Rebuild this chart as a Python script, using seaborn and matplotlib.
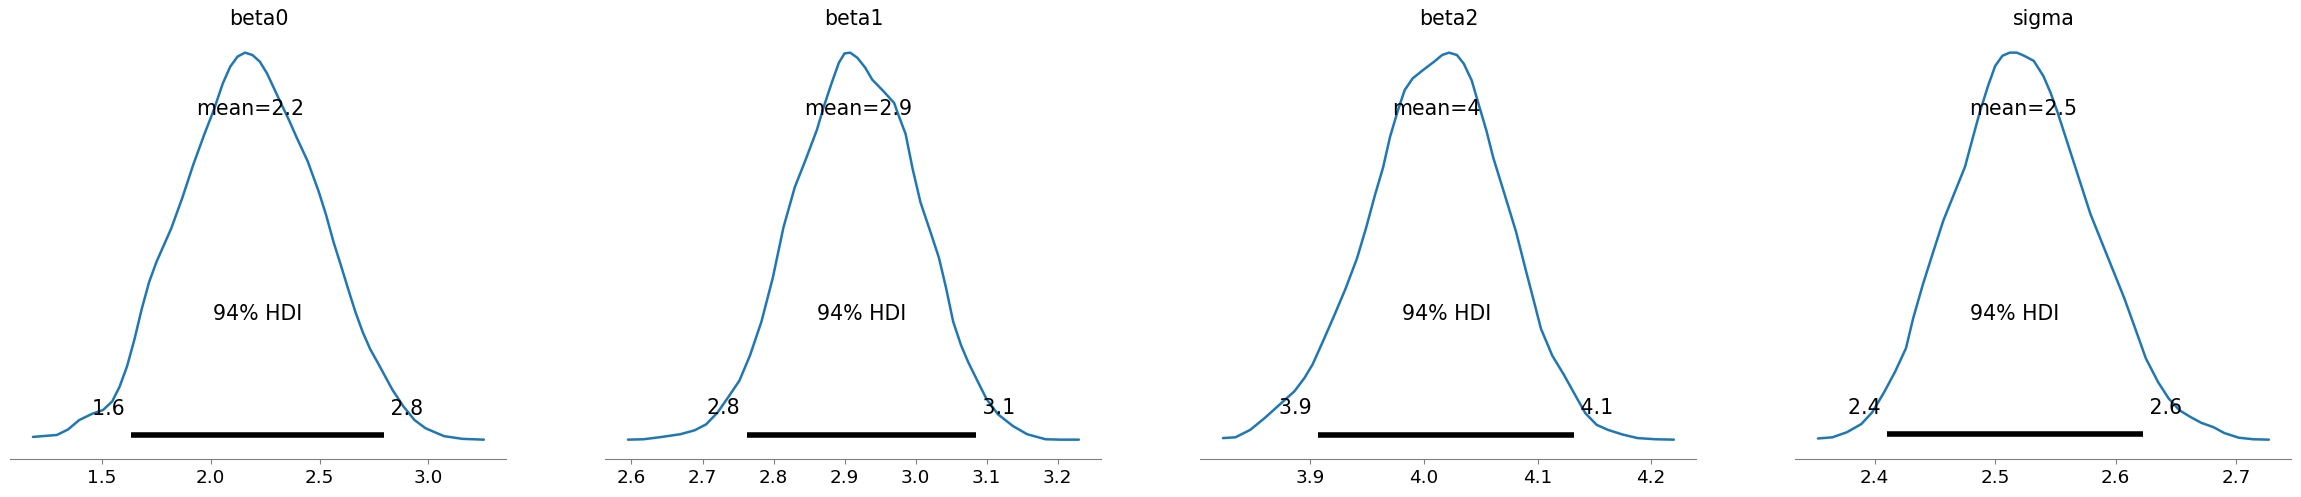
import matplotlib
matplotlib.use("Agg")
import matplotlib.pyplot as plt
import seaborn as sns

# posterior density curves (density scaled so peak = 1)
params = ["beta0", "beta1", "beta2", "sigma"]

beta0_x = [1.185, 1.295, 1.346, 1.397, 1.456, 1.507, 1.549, 1.583, 1.617, 1.651,
           1.684, 1.718, 1.752, 1.786, 1.820, 1.870, 1.921, 1.972, 2.014, 2.056,
           2.090, 2.124, 2.158, 2.192, 2.226, 2.259, 2.310, 2.361, 2.395, 2.445,
           2.496, 2.530, 2.564, 2.598, 2.631, 2.665, 2.699, 2.733, 2.767, 2.801,
           2.834, 2.885, 2.936, 2.987, 3.071, 3.156, 3.254]
beta0_density = [0.017, 0.022, 0.036, 0.060, 0.076, 0.086, 0.108, 0.146, 0.198, 0.267,
                 0.344, 0.413, 0.465, 0.508, 0.551, 0.628, 0.714, 0.792, 0.852, 0.921,
                 0.964, 0.990, 1.000, 0.994, 0.977, 0.947, 0.886, 0.826, 0.783, 0.723,
                 0.645, 0.585, 0.516, 0.456, 0.396, 0.336, 0.284, 0.241, 0.207, 0.172,
                 0.138, 0.095, 0.060, 0.039, 0.019, 0.012, 0.010]

beta1_x = [2.595, 2.617, 2.643, 2.669, 2.689, 2.705, 2.721, 2.736, 2.752, 2.767,
           2.783, 2.799, 2.814, 2.830, 2.845, 2.861, 2.871, 2.882, 2.892, 2.900,
           2.908, 2.918, 2.929, 2.939, 2.955, 2.970, 2.975, 2.986, 2.996, 3.007,
           3.022, 3.033, 3.043, 3.053, 3.064, 3.074, 3.087, 3.100, 3.116, 3.137,
           3.157, 3.183, 3.204, 3.230]
beta1_density = [0.008, 0.009, 0.015, 0.022, 0.032, 0.047, 0.077, 0.116, 0.159, 0.224,
                 0.310, 0.422, 0.551, 0.654, 0.723, 0.800, 0.861, 0.921, 0.972, 0.996,
                 0.998, 0.985, 0.960, 0.929, 0.899, 0.869, 0.843, 0.790, 0.700, 0.615,
                 0.534, 0.473, 0.396, 0.310, 0.250, 0.207, 0.159, 0.112, 0.073, 0.043,
                 0.022, 0.009, 0.008, 0.008]

beta2_x = [3.823, 3.834, 3.847, 3.860, 3.873, 3.886, 3.895, 3.902, 3.912, 3.921,
           3.931, 3.941, 3.949, 3.957, 3.964, 3.970, 3.977, 3.983, 3.990, 3.999,
           4.009, 4.016, 4.022, 4.029, 4.035, 4.042, 4.048, 4.055, 4.061, 4.071,
           4.081, 4.090, 4.097, 4.103, 4.113, 4.123, 4.132, 4.142, 4.152, 4.162,
           4.175, 4.188, 4.204, 4.220]
beta2_density = [0.013, 0.015, 0.034, 0.065, 0.099, 0.133, 0.168, 0.202, 0.267, 0.327,
                 0.396, 0.473, 0.551, 0.637, 0.706, 0.783, 0.852, 0.904, 0.934, 0.955,
                 0.977, 0.994, 1.000, 0.994, 0.972, 0.929, 0.869, 0.800, 0.731, 0.637,
                 0.542, 0.439, 0.361, 0.293, 0.224, 0.176, 0.129, 0.077, 0.047, 0.034,
                 0.022, 0.013, 0.010, 0.009]

sigma_x = [2.353, 2.365, 2.377, 2.389, 2.398, 2.408, 2.417, 2.426, 2.432, 2.440,
           2.448, 2.457, 2.466, 2.475, 2.481, 2.487, 2.494, 2.500, 2.506, 2.512,
           2.518, 2.524, 2.532, 2.540, 2.546, 2.552, 2.561, 2.570, 2.579, 2.589,
           2.598, 2.607, 2.616, 2.625, 2.635, 2.644, 2.653, 2.662, 2.671, 2.681,
           2.690, 2.702, 2.714, 2.727]
sigma_density = [0.010, 0.013, 0.026, 0.047, 0.077, 0.129, 0.181, 0.241, 0.318, 0.404,
                 0.482, 0.568, 0.637, 0.706, 0.775, 0.843, 0.912, 0.964, 0.990, 0.998,
                 0.998, 0.990, 0.977, 0.938, 0.895, 0.843, 0.757, 0.671, 0.585, 0.508,
                 0.439, 0.370, 0.293, 0.215, 0.155, 0.112, 0.082, 0.065, 0.050, 0.039,
                 0.024, 0.012, 0.008, 0.007]

means = [2.181, 2.919, 4.011, 2.523]
hdi_low = [1.637, 2.762, 3.907, 2.410]
hdi_high = [2.795, 3.085, 4.132, 2.623]

# x tick values shown under each panel
beta0_ticks = [1.5, 2.0, 2.5, 3.0]
beta1_ticks = [2.6, 2.7, 2.8, 2.9, 3.0, 3.1, 3.2]
beta2_ticks = [3.9, 4.0, 4.1, 4.2]
sigma_ticks = [2.4, 2.5, 2.6, 2.7]

curves_x = [beta0_x, beta1_x, beta2_x, sigma_x]
curves_y = [beta0_density, beta1_density, beta2_density, sigma_density]
ticks = [beta0_ticks, beta1_ticks, beta2_ticks, sigma_ticks]

sns.set_style("white")
plt.rcParams['font.family'] = ['DejaVu Sans']
plt.rcParams['text.color'] = 'black'
plt.rcParams['xtick.labelcolor'] = 'black'

fig = plt.figure(figsize=(23.01, 4.97), dpi=100)
W, H = 2301, 497
ax_w = 496
gap = 99
left0 = 10.4
bottom_px = 459
top_px = 33.3

text_size = 14.8
tick_size = 13.2

for i, name in enumerate(params):
    ax = fig.add_axes([(left0 + i * (ax_w + gap)) / W, 1 - bottom_px / H,
                       ax_w / W, (bottom_px - top_px) / H])
    sns.lineplot(x=curves_x[i], y=curves_y[i], ax=ax, color="#1f77b4",
                 linewidth=1.8, sort=False, estimator=None)
    plot_height = ax.get_ylim()[1]

    # hdi bar and labels
    ax.plot([hdi_low[i], hdi_high[i]], [plot_height * 0.02] * 2, color="k",
            lw=4, solid_capstyle="butt")
    ax.text(hdi_low[i], plot_height * 0.07, f"{hdi_low[i]:.2g} ", ha="right",
            size=text_size, color="black")
    ax.text(hdi_high[i], plot_height * 0.07, f" {hdi_high[i]:.2g}", ha="left",
            size=text_size, color="black")
    ax.text((hdi_low[i] + hdi_high[i]) / 2, plot_height * 0.3, "94% HDI",
            ha="center", size=text_size, color="black")
    ax.text(means[i], plot_height * 0.8, f"mean={means[i]:.2g}", ha="center",
            size=text_size, color="black")

    ax.set_title(name, fontsize=text_size, color="black")
    ax.set_xticks(ticks[i])
    ax.set_xticklabels([f"{t:.1f}" for t in ticks[i]])
    ax.set_xlabel("")
    ax.set_ylabel("")
    ax.set_yticks([])
    for s in ["left", "right", "top"]:
        ax.spines[s].set_visible(False)
    ax.spines["bottom"].set_color("#808080")
    ax.tick_params(axis="x", bottom=True, direction="out", length=3.5,
                   color="#808080", labelcolor="black", labelsize=tick_size,
                   pad=3.5)

fig.savefig("out.png", dpi=100)
